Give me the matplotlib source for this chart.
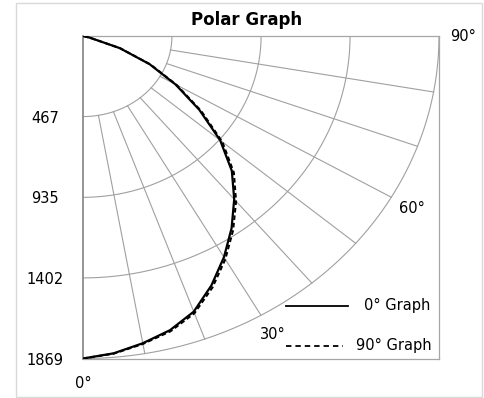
import numpy as np
import matplotlib
matplotlib.use("Agg")
import matplotlib.pyplot as plt
from matplotlib.patches import Rectangle

plt.rcParams['font.family'] = ['DejaVu Sans']

# angle (deg) and intensity
angles = [0, 5, 10, 15, 20, 25, 30, 35, 40, 45, 50, 55, 60, 65, 70, 75, 80, 85, 90]
graph_0 = [1869, 1846, 1808, 1765, 1700, 1595, 1480, 1360, 1235, 1105, 940, 745, 560, 385, 205, 35, 0, 0, 0]
graph_90 = [1869, 1848, 1812, 1772, 1710, 1608, 1494, 1374, 1250, 1120, 955, 757, 568, 390, 208, 36, 0, 0, 0]

r_ticks = [467, 935, 1402, 1869]
r_labels = ['467', '935', '1402', '1869']
spoke_angles = [10, 20, 30, 40, 50, 60, 70, 80]
angle_labels = [0, 30, 60, 90]
r_max = 1869

fig = plt.figure(figsize=(4.84, 3.98), dpi=100)
fig.patches.append(Rectangle((16 / 484, 1 - 396.5 / 398), 466 / 484, 393.5 / 398,
                             transform=fig.transFigure, fill=False, edgecolor='#d9d9d9', lw=1))
ax = fig.add_axes([83 / 484, 1 - 358.5 / 398, 356 / 484, 322.5 / 398])
ax.set_xlim(0, r_max)
ax.set_ylim(r_max, 0)

grid_c = '#a0a0a0'
# arcs
t = np.radians(np.linspace(0, 90, 200))
for r in r_ticks:
    ax.plot(r * np.sin(t), r * np.cos(t), color=grid_c, lw=0.8, zorder=1)
# spokes
for a in spoke_angles:
    ar = np.radians(a)
    ax.plot([r_ticks[0] * np.sin(ar), r_max * np.sin(ar)],
            [r_ticks[0] * np.cos(ar), r_max * np.cos(ar)], color=grid_c, lw=0.8, zorder=1)

# curves
th = np.radians(angles)
ax.plot(np.array(graph_0) * np.sin(th), np.array(graph_0) * np.cos(th), color='black', lw=1.6, zorder=3)
ax.plot(np.array(graph_90) * np.sin(th), np.array(graph_90) * np.cos(th), color='black', lw=1.5,
        linestyle=(0, (2.2, 1.4)), zorder=2)

# angle labels
for a in angle_labels:
    ar = np.radians(a)
    rr = 1995 if a else 2011
    ax.text(rr * np.sin(ar), rr * np.cos(ar), '%d°' % a, ha='center', va='center',
            fontsize=10.5, clip_on=False)

ax.set_xticks([])
ax.set_yticks(r_ticks)
ax.set_yticklabels(r_labels)
ax.tick_params(axis='y', length=0, pad=27.5, labelsize=10.5)
for lab in ax.get_yticklabels():
    lab.set_ha('center')

for s in ['top', 'right', 'bottom']:
    ax.spines[s].set_color('#a6a6a6')
    ax.spines[s].set_linewidth(0.9)
ax.spines['left'].set_color('#8c8c8c')
ax.spines['left'].set_linewidth(1.3)

# legend
ax.plot([0.570, 0.744], [0.163, 0.163], transform=ax.transAxes, color='black', lw=1.3, clip_on=False)
ax.text(0.975, 0.163, '0° Graph', transform=ax.transAxes, ha='right', va='center', fontsize=10.5)
ax.plot([0.570, 0.730], [0.039, 0.039], transform=ax.transAxes, color='black', lw=1.3,
        linestyle=(0, (3, 2.2)), clip_on=False)
ax.text(0.978, 0.039, '90° Graph', transform=ax.transAxes, ha='right', va='center', fontsize=10.5)

fig.text(247 / 484, 1 - 20 / 398, 'Polar Graph', ha='center', va='center', fontsize=12, fontweight='bold')

fig.savefig('out.png', dpi=100)
